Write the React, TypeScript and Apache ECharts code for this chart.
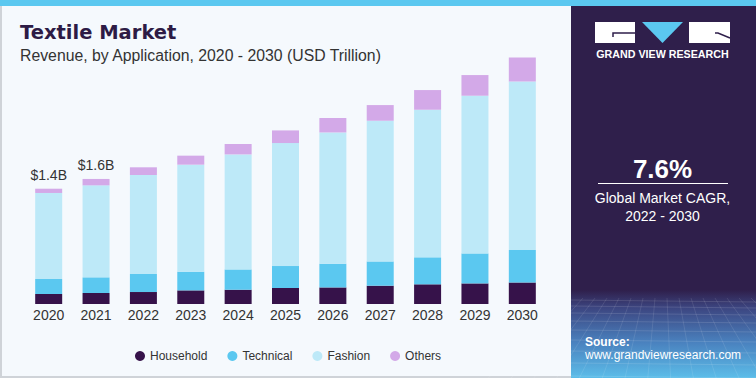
import React, { useEffect, useRef } from "react";
import * as echarts from "echarts";

const years = ["2020", "2021", "2022", "2023", "2024", "2025", "2026", "2027", "2028", "2029", "2030"];
const household = [0.122, 0.134, 0.146, 0.166, 0.174, 0.195, 0.202, 0.223, 0.24, 0.251, 0.263];
const technical = [0.183, 0.191, 0.22, 0.228, 0.248, 0.268, 0.289, 0.296, 0.329, 0.366, 0.395];
const fashion = [1.049, 1.122, 1.207, 1.305, 1.402, 1.5, 1.601, 1.716, 1.8, 1.923, 2.056];
const others = [0.052, 0.078, 0.094, 0.11, 0.127, 0.154, 0.176, 0.191, 0.24, 0.252, 0.293];
const topLabels = ["$1.4B", "$1.6B", "", "", "", "", "", "", "", "", ""];
const seriesNames = ["Household", "Technical", "Fashion", "Others"];
const colors = ["#36124a", "#5bc8f0", "#bde9f8", "#d3a9e8"];

export default function App() {
  const ref = useRef<HTMLDivElement>(null);
  useEffect(() => {
    if (!ref.current) return;
    const chart = echarts.init(ref.current, null, { renderer: "svg" });
    const dark = "#2f1f4b";
    const dataSets = [household, technical, fashion, others];
    const mesh: any[] = [];
    const hy = [300, 306, 313, 321, 330, 340, 351, 363, 376];
    hy.forEach((y) =>
      mesh.push({
        type: "line",
        shape: { x1: 571, y1: y, x2: 756, y2: y + 2 },
        style: { stroke: "rgba(255,255,255,0.18)", lineWidth: 0.7 },
        z: 0,
      })
    );
    for (let k = 0; k < 16; k++) {
      const xt = 571 + k * 12;
      mesh.push({
        type: "line",
        shape: { x1: xt, y1: 298, x2: 571 + (xt - 571 - 92) * 1.9 + 92, y2: 378 },
        style: { stroke: "rgba(255,255,255,0.15)", lineWidth: 0.7 },
        z: 0,
      });
    }
    chart.setOption({
      animation: false,
      backgroundColor: "#f5f9fd",
      color: colors,
      grid: { left: 25, right: 210, top: 17, bottom: 74 },
      xAxis: {
        type: "category",
        data: years,
        axisLine: { show: false },
        axisTick: { show: false },
        axisLabel: { color: "#333", fontSize: 14, fontFamily: "Liberation Sans", margin: 4 },
      },
      yAxis: { type: "value", min: 0, max: 3.5, show: false, splitLine: { show: false } },
      legend: {
        data: seriesNames,
        left: 130,
        top: 345,
        icon: "circle",
        itemWidth: 10,
        itemHeight: 10,
        itemGap: 20,
        textStyle: { color: "#333", fontSize: 12, fontFamily: "Liberation Sans" },
      },
      series: dataSets.map((d, i) => ({
        name: seriesNames[i],
        type: "bar",
        stack: "total",
        barWidth: 27,
        data: d,
        itemStyle: { color: colors[i] },
        label:
          i === 3
            ? {
                show: true,
                position: "top",
                distance: 7,
                color: "#333",
                fontSize: 14,
                fontFamily: "Liberation Sans",
                formatter: (p: any) => topLabels[p.dataIndex],
              }
            : { show: false },
      })),
      graphic: [
        { type: "rect", shape: { x: 0, y: 0, width: 2, height: 378 }, style: { fill: "#cfd3d8" }, z: -1 },
        { type: "rect", shape: { x: 0, y: 376, width: 571, height: 2 }, style: { fill: "#cfd3d8" }, z: -1 },
        { type: "rect", shape: { x: 571, y: 0, width: 185, height: 378 }, style: { fill: dark }, z: -1 },
        {
          type: "rect",
          shape: { x: 571, y: 290, width: 185, height: 88 },
          style: {
            fill: new echarts.graphic.LinearGradient(0, 0, 0, 1, [
              { offset: 0, color: dark },
              { offset: 0.2, color: "#3c4580" },
              { offset: 0.6, color: "#4a82bf" },
              { offset: 1, color: "#5cbde9" },
            ]),
          },
          z: -1,
        },
        ...mesh,
        { type: "rect", shape: { x: 0, y: 0, width: 756, height: 6 }, style: { fill: "#5bc8f0" }, z: 1 },
        // logo
        { type: "rect", shape: { x: 595, y: 22, width: 40, height: 21 }, style: { fill: "#ffffff" }, z: 1 },
        { type: "polygon", shape: { points: [[642, 22], [683, 22], [662.5, 43]] }, style: { fill: "#5bc8f0" }, z: 1 },
        { type: "rect", shape: { x: 689, y: 22, width: 41, height: 21 }, style: { fill: "#ffffff" }, z: 1 },
        { type: "polyline", shape: { points: [[635, 33], [613, 33], [613, 37]] }, style: { stroke: dark, lineWidth: 1.5, fill: null }, z: 2 },
        { type: "polyline", shape: { points: [[715, 33], [718, 33], [730, 38]] }, style: { stroke: dark, lineWidth: 1.5, fill: null }, z: 2 },
        {
          type: "text", x: 662.5, y: 54, z: 2,
          style: { text: "GRAND VIEW RESEARCH", fill: "#ffffff", font: "bold 10.7px 'Liberation Sans'", align: "center", verticalAlign: "middle" },
        },
        {
          type: "text", x: 662.5, y: 169, z: 2,
          style: { text: "7.6%", fill: "#ffffff", font: "bold 26px 'Liberation Sans'", align: "center", verticalAlign: "middle" },
        },
        { type: "rect", shape: { x: 598, y: 183, width: 130, height: 1 }, style: { fill: "#ffffff" }, z: 2 },
        {
          type: "text", x: 662.5, y: 198, z: 2,
          style: { text: "Global Market CAGR,", fill: "#ffffff", font: "14px 'Liberation Sans'", align: "center", verticalAlign: "middle" },
        },
        {
          type: "text", x: 662.5, y: 216, z: 2,
          style: { text: "2022 - 2030", fill: "#ffffff", font: "14px 'Liberation Sans'", align: "center", verticalAlign: "middle" },
        },
        {
          type: "text", x: 585, y: 342, z: 2,
          style: { text: "Source:", fill: "#ffffff", font: "bold 12px 'Liberation Sans'", align: "left", verticalAlign: "middle" },
        },
        {
          type: "text", x: 585, y: 355, z: 2,
          style: { text: "www.grandviewresearch.com", fill: "#ffffff", font: "12px 'Liberation Sans'", align: "left", verticalAlign: "middle" },
        },
        // titles
        {
          type: "text", x: 20, y: 32, z: 2,
          style: { text: "Textile Market", fill: "#2d1b45", font: "bold 19.5px 'DejaVu Sans'", align: "left", verticalAlign: "middle" },
        },
        {
          type: "text", x: 20, y: 55, z: 2,
          style: { text: "Revenue, by Application, 2020 - 2030 (USD Trillion)", fill: "#333333", font: "15.8px 'Liberation Sans'", align: "left", verticalAlign: "middle" },
        },
      ],
    });
    return () => chart.dispose();
  }, []);
  return <div ref={ref} style={{ position: "fixed", left: 0, top: 0, width: 756, height: 378 }} />;
}
